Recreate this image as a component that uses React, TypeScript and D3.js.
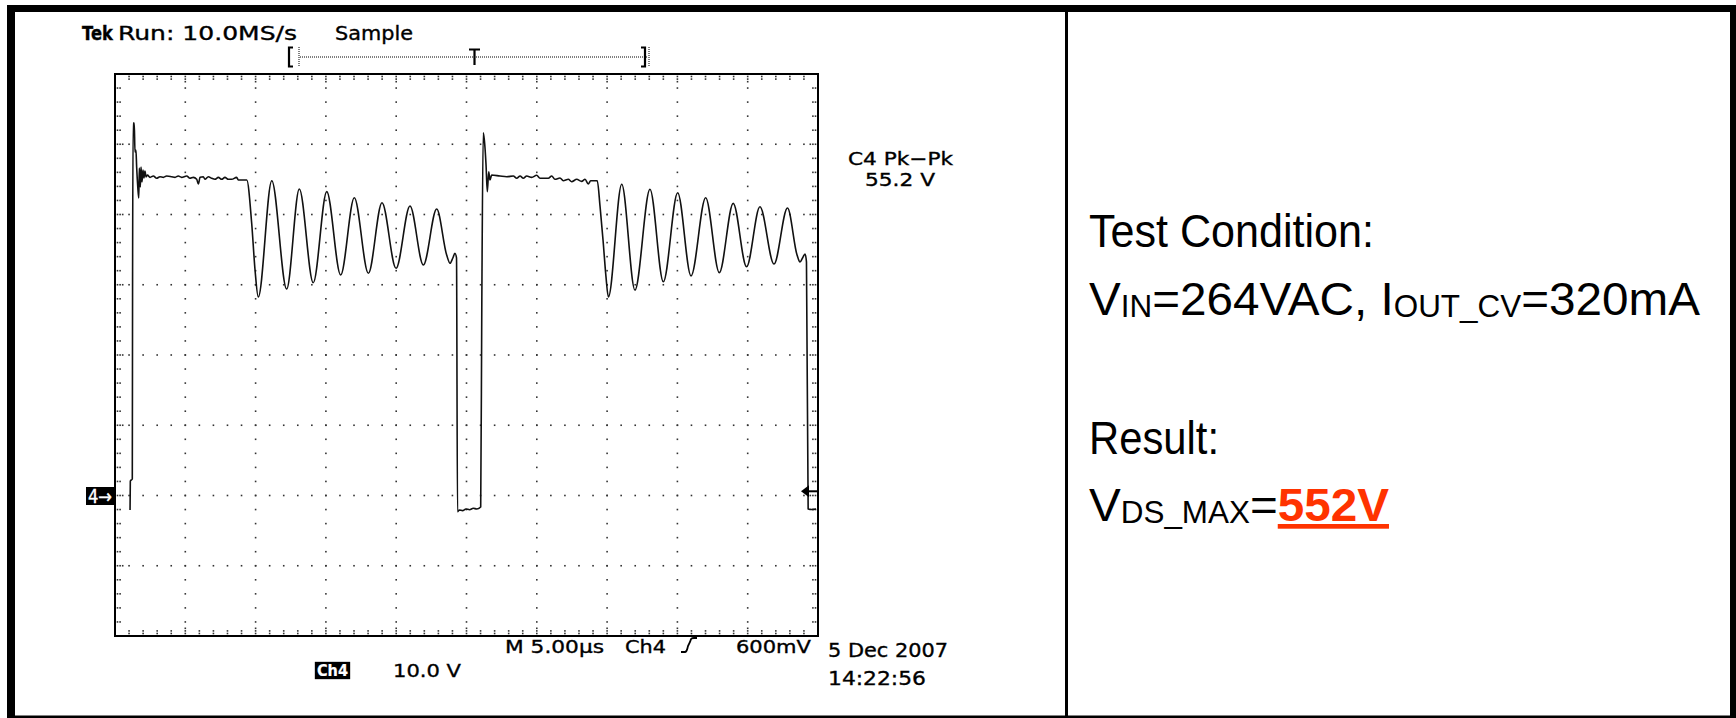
import React from "react";
import * as d3 from "d3";

// ---- Trace data (Ch4, time in µs from left of screen, volts on 10 V/div scale) ----
const traceTimeUs = [
  1.07, 1.09, 1.23, 1.25, 1.29, 1.37, 1.42, 1.49, 1.54, 1.62, 1.69, 1.73, 1.8, 1.85, 1.92, 1.99, 2.06, 2.13, 2.21, 2.31,
  2.49, 2.73, 2.96, 3.2, 3.44, 3.67, 4.03, 4.27, 4.5, 4.74, 5.1, 5.33, 5.57, 5.81, 5.93, 6.05, 6.28, 6.4, 6.64, 6.88,
  7.11, 7.35, 7.59, 7.82, 8.06, 8.3, 8.65, 8.77, 9.37,
  9.72, 9.96, 10.19, 11.15, 12.21, 13.11, 14.1, 15.06, 16.05, 17.02, 18.02, 18.99, 19.99, 20.98, 21.93, 22.88,
  23.59, 23.83, 24.02, 24.18, 24.29, 24.36, 24.5, 24.72, 24.96, 25.22, 25.48, 25.73, 26.01, 26.09, 26.19,
  26.27, 26.39, 26.48, 26.58, 26.67, 26.79, 27.38, 27.86, 28.33, 28.57, 28.81, 29.04, 29.28, 29.64, 29.99, 30.23,
  30.82, 31.06, 31.29, 31.65, 31.88, 32.24, 32.48, 32.84, 33.19, 33.43, 33.66, 33.83, 34.3,
  34.5, 34.71, 34.92, 35.09, 36.04, 36.98, 38.05, 39.0, 40.02, 40.97, 42.01, 42.98, 43.97, 44.92, 45.87, 46.87, 47.83,
  48.51, 48.72, 48.9, 49.08, 49.18, 49.3, 49.55, 49.86,
];
const traceVolts = [
  -2.06, 2.06, 2.35, 30.68, 53.02, 53.02, 48.9, 49.18, 46.76, 43.91, 42.35, 46.62, 43.91, 46.76, 44.63, 46.33, 45.2, 46.19, 45.34, 45.62,
  45.29, 45.48, 45.15, 45.38, 45.29, 45.48, 45.38, 45.29, 45.48, 45.29, 45.48, 45.15, 45.29, 45.01, 44.34, 45.29, 45.38, 45.01, 45.38, 45.15,
  45.01, 45.29, 45.01, 45.29, 45.01, 45.01, 45.29, 44.91, 44.91,
  38.79, 32.1, 28.26, 44.81, 29.4, 43.63, 30.29, 43.25, 31.39, 42.39, 31.63, 41.68, 32.34, 41.21, 32.81, 40.78,
  34.23, 33.05, 33.77, 34.48, 33.81, -2.31, -2.06, -2.16, -1.92, -2.02, -1.82, -1.92, -1.64, 27.83, 51.64,
  50.61, 47.05, 43.25, 46.09, 44.91, 45.62, 45.48, 45.38, 45.48, 45.15, 45.48, 45.15, 45.48, 45.29, 45.58, 45.15,
  45.15, 45.48, 45.01, 45.2, 44.81, 45.01, 44.67, 45.01, 44.72, 45.01, 44.34, 44.81, 44.81,
  41.11, 36.37, 31.15, 28.26, 44.3, 29.25, 43.59, 30.43, 43.1, 31.25, 42.39, 31.72, 41.59, 32.57, 41.11, 32.95, 40.93,
  34.23, 33.24, 33.81, 34.38, 33.24, -1.92, -1.99, -1.92,
];

// ---- Graticule / scales ----
const timeDomain = [0, 50]; // 10 div x 5.00 µs
const voltDomain = [-20, 60]; // 8 div x 10.0 V, ground 2 div above bottom
const majorTimeStep = 5;
const minorTimeStep = 1;
const majorVoltStep = 10;
const minorVoltStep = 2;
const triggerLevelVolts = 0.6;

// ---- Texts ----
const headerBold = "Tek";
const headerRun = "Run: 10.0MS/s";
const headerMode = "Sample";
const measLabel = "C4 Pk\u2212Pk";
const measValue = "55.2 V";
const timebaseLabel = "M 5.00\u00b5s";
const triggerSource = "Ch4";
const triggerLevel = "600mV";
const channelLabel = "Ch4";
const channelScale = "10.0 V";
const dateLabel = "5 Dec 2007";
const clockLabel = "14:22:56";
const groundMarker = "4\u2192";
const condTitle = "Test Condition:";
const resultTitle = "Result:";
const resultValue = "552V";

const W = 1736;
const H = 718;
const PL = 115, PR = 818, PT = 74, PB = 636;
const SCOPE_FONT = "'DejaVu Sans', Verdana, sans-serif";
const TEXT_FONT = "'Liberation Sans', Arial, Helvetica, sans-serif";

export default function App() {
  const x = d3.scaleLinear().domain(timeDomain).range([PL, PR]);
  const y = d3.scaleLinear().domain(voltDomain).range([PB, PT]);

  const minorT = d3.range(timeDomain[0], timeDomain[1] + 0.001, minorTimeStep);
  const minorV = d3.range(voltDomain[0], voltDomain[1] + 0.001, minorVoltStep);
  const majorT = minorT.filter((t) => Math.abs(t % majorTimeStep) < 1e-6 && t > timeDomain[0] && t < timeDomain[1]);
  const majorV = minorV.filter((v) => Math.abs(v % majorVoltStep) < 1e-6 && v > voltDomain[0] && v < voltDomain[1]);
  const innerT = minorT.filter((t) => t > timeDomain[0] && t < timeDomain[1]);
  const innerV = minorV.filter((v) => v > voltDomain[0] && v < voltDomain[1]);

  const dots: { cx: number; cy: number }[] = [];
  majorT.forEach((t) => innerV.forEach((v) => dots.push({ cx: x(t), cy: y(v) })));
  majorV.forEach((v) => innerT.forEach((t) => dots.push({ cx: x(t), cy: y(v) })));
  innerT.forEach((t) => {
    const isMajor = Math.abs(t % majorTimeStep) < 1e-6;
    const n = isMajor ? 3 : 2;
    for (let k = 0; k < n; k++) {
      dots.push({ cx: x(t), cy: PT + 2.5 + k * 2.6 });
      dots.push({ cx: x(t), cy: PB - 2.5 - k * 2.6 });
    }
  });
  innerV.forEach((v) => {
    const isMajor = Math.abs(v % majorVoltStep) < 1e-6;
    const n = isMajor ? 3 : 2;
    for (let k = 0; k < n; k++) {
      dots.push({ cx: PL + 2.5 + k * 2.6, cy: y(v) });
      dots.push({ cx: PR - 2.5 - k * 2.6, cy: y(v) });
    }
  });

  const pts = traceTimeUs.map((t, i) => [t, traceVolts[i]] as [number, number]);
  const line = d3
    .line<[number, number]>()
    .x((d) => x(d[0]))
    .y((d) => y(d[1]))
    .curve(d3.curveMonotoneX);
  const tracePath = line(pts) || "";

  const gy = y(0);
  const ty = y(triggerLevelVolts);

  const scopeText = { fontFamily: SCOPE_FONT, fill: "#000", stroke: "#000", strokeWidth: 0.35 } as const;

  return (
    <svg
      width={W}
      height={H}
      viewBox={`0 0 ${W} ${H}`}
      style={{ position: "absolute", left: 0, top: 0, display: "block", background: "#fff" }}
    >
      <rect x={0} y={0} width={W} height={H} fill="#fff" />
      {/* outer frame */}
      <rect x={7} y={5} width={W - 7} height={7} fill="#000" />
      <rect x={7} y={5} width={8} height={H - 5} fill="#000" />
      <rect x={1730} y={5} width={6} height={H - 5} fill="#000" />
      <rect x={7} y={715.5} width={W - 7} height={2.5} fill="#000" />
      <rect x={1065} y={5} width={3} height={H - 5} fill="#000" />

      {/* scope header */}
      <g {...scopeText}>
        <text x={82} y={40} fontSize={19} fontWeight="bold" textLength={31} lengthAdjust="spacingAndGlyphs">
          {headerBold}
        </text>
        <text x={118} y={40} fontSize={19} textLength={179} lengthAdjust="spacingAndGlyphs">
          {headerRun}
        </text>
        <text x={335} y={40} fontSize={19} textLength={78} lengthAdjust="spacingAndGlyphs">
          {headerMode}
        </text>
      </g>

      {/* record / trigger position bar */}
      <g stroke="#000" fill="none">
        <path d="M293,47.5 H289 V66.5 H293" strokeWidth={2.2} />
        <line x1={299} y1={47} x2={299} y2={67} strokeWidth={1} strokeDasharray="1,1" />
        <line x1={300} y1={57} x2={648} y2={57} strokeWidth={1} strokeDasharray="1,1" />
        <path d="M641,47.5 H645 V66.5 H641" strokeWidth={2.2} />
        <line x1={649} y1={47} x2={649} y2={67} strokeWidth={1} strokeDasharray="1,1" />
        <line x1={469} y1={49.5} x2={480} y2={49.5} strokeWidth={2} />
        <line x1={474.5} y1={49} x2={474.5} y2={65} strokeWidth={2.2} />
      </g>

      {/* graticule dots */}
      <g fill="#333">
        {dots.map((d, i) => (
          <rect key={i} x={d.cx - 0.8} y={d.cy - 0.8} width={1.6} height={1.6} />
        ))}
      </g>
      <rect x={PL} y={PT} width={PR - PL} height={PB - PT} fill="none" stroke="#000" strokeWidth={2} />

      {/* trace */}
      <path d={tracePath} fill="none" stroke="#111" strokeWidth={1.6} strokeLinejoin="round" />

      {/* ground marker */}
      <rect x={86} y={gy - 8.5} width={28} height={18} fill="#000" />
      <text x={88} y={gy + 7} fontFamily={SCOPE_FONT} fontSize={19} fill="#fff" stroke="#fff" strokeWidth={0.4} textLength={24} lengthAdjust="spacingAndGlyphs">
        {groundMarker}
      </text>

      {/* trigger level arrow */}
      <path d={`M801,${ty} L809,${ty - 6} L809,${ty + 6} Z`} fill="#000" />
      <line x1={808} y1={ty} x2={PR} y2={ty} stroke="#000" strokeWidth={2} />

      {/* measurement readout */}
      <g {...scopeText} fontSize={18}>
        <text x={848} y={165} textLength={105} lengthAdjust="spacingAndGlyphs">
          {measLabel}
        </text>
        <text x={865} y={186} textLength={70} lengthAdjust="spacingAndGlyphs">
          {measValue}
        </text>
      </g>

      {/* bottom readouts */}
      <g {...scopeText} fontSize={18}>
        <text x={505} y={653} textLength={99} lengthAdjust="spacingAndGlyphs">
          {timebaseLabel}
        </text>
        <text x={625} y={653} textLength={41} lengthAdjust="spacingAndGlyphs">
          {triggerSource}
        </text>
        <path d="M681,652 H685 C687,652 687,650 688,646 L690,642 C691,639 691,638 694,638 H697" fill="none" stroke="#000" strokeWidth={1.8} />
        <text x={736} y={653} textLength={75} lengthAdjust="spacingAndGlyphs">
          {triggerLevel}
        </text>
        <rect x={315} y={662} width={35} height={17} fill="#000" />
        <text x={317} y={676} fill="#fff" stroke="#fff" strokeWidth={0.2} fontWeight="bold" fontSize={16} textLength={31} lengthAdjust="spacingAndGlyphs">
          {channelLabel}
        </text>
        <text x={393} y={677} textLength={68} lengthAdjust="spacingAndGlyphs">
          {channelScale}
        </text>
        <text x={828} y={657} fontSize={19} textLength={120} lengthAdjust="spacingAndGlyphs">
          {dateLabel}
        </text>
        <text x={828} y={685} fontSize={19} textLength={98} lengthAdjust="spacingAndGlyphs">
          {clockLabel}
        </text>
      </g>

      {/* right panel */}
      <g fontFamily={TEXT_FONT} fill="#000" fontSize={47}>
        <text x={1089} y={247} textLength={285} lengthAdjust="spacingAndGlyphs">
          {condTitle}
        </text>
        <text x={1089} y={315} textLength={611} lengthAdjust="spacingAndGlyphs">
          <tspan>V</tspan>
          <tspan fontSize={31} dy={2}>IN</tspan>
          <tspan dy={-2}>=264VAC, I</tspan>
          <tspan fontSize={31} dy={2}>OUT_CV</tspan>
          <tspan dy={-2}>=320mA</tspan>
        </text>
        <text x={1089} y={454} textLength={130} lengthAdjust="spacingAndGlyphs">
          {resultTitle}
        </text>
        <text x={1089} y={521} textLength={300} lengthAdjust="spacingAndGlyphs">
          <tspan>V</tspan>
          <tspan fontSize={31} dy={2}>DS_MAX</tspan>
          <tspan dy={-2}>=</tspan>
          <tspan fill="#FF3300" fontWeight="bold" textDecoration="underline">
            {resultValue}
          </tspan>
        </text>
      </g>
    </svg>
  );
}
